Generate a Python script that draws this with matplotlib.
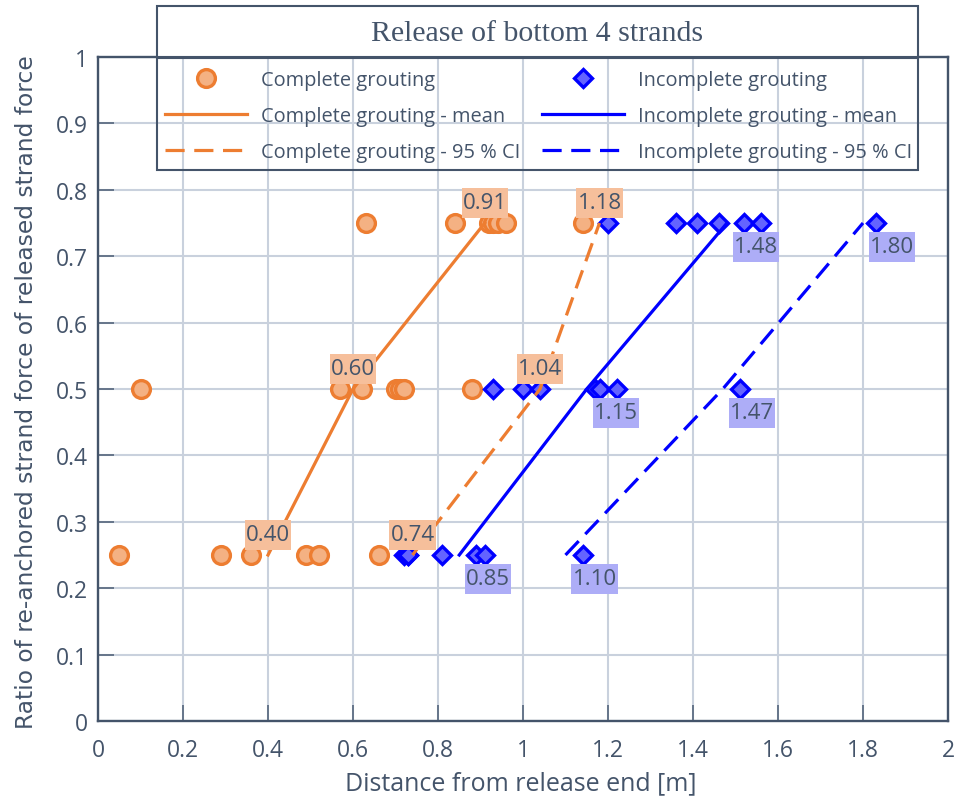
import matplotlib
matplotlib.use("Agg")
import matplotlib.pyplot as plt
from matplotlib.lines import Line2D
from matplotlib.patches import Rectangle
from matplotlib.path import Path

# ---- data -------------------------------------------------------------
levels = [0.25, 0.5, 0.75]

complete_x_025 = [0.05, 0.29, 0.36, 0.49, 0.52, 0.66]
complete_x_050 = [0.10, 0.57, 0.62, 0.70, 0.71, 0.72, 0.88]
complete_x_075 = [0.63, 0.84, 0.92, 0.93, 0.94, 0.96, 1.14]

incomplete_x_025 = [0.72, 0.73, 0.73, 0.81, 0.89, 0.91, 1.14]
incomplete_x_050 = [0.93, 1.00, 1.04, 1.17, 1.18, 1.22, 1.51]
incomplete_x_075 = [1.20, 1.36, 1.41, 1.46, 1.52, 1.56, 1.83]

complete_mean = [0.40, 0.60, 0.91]
complete_ci = [0.74, 1.04, 1.18]
incomplete_mean = [0.85, 1.15, 1.48]
incomplete_ci = [1.10, 1.47, 1.80]

x_ticks = [0, 0.2, 0.4, 0.6, 0.8, 1.0, 1.2, 1.4, 1.6, 1.8, 2.0]
x_tick_labels = ["0", "0.2", "0.4", "0.6", "0.8", "1", "1.2", "1.4", "1.6", "1.8", "2"]
y_ticks = [0, 0.1, 0.2, 0.3, 0.4, 0.5, 0.6, 0.7, 0.8, 0.9, 1.0]
y_tick_labels = ["0", "0.1", "0.2", "0.3", "0.4", "0.5", "0.6", "0.7", "0.8", "0.9", "1"]

title_text = "Release of bottom 4 strands"
x_label = "Distance from release end [m]"
y_label = "Ratio of re-anchored strand force of released strand force"

# ---- style ------------------------------------------------------------
SLATE = "#44546A"
GRID = "#C9D1DD"
ORANGE = "#ED7D31"
ORANGE_FACE = "#F4B183"
BLUE = "#0000FF"
BLUE_FACE = "#6464FF"
ORANGE_LABEL_BG = "#F6BF9B"
BLUE_LABEL_BG = "#ADADF7"

SANS = ["Open Sans", "DejaVu Sans"]
SERIF = ["Liberation Serif", "DejaVu Serif"]

W, H = 965, 804
fig = plt.figure(figsize=(W / 100, H / 100), dpi=100)
fig.patch.set_facecolor("white")


def fx(px):
    return px / W


def fy(py):
    return 1 - py / H


def label_box(x0, y0, width, height, mutation_size):
    """Flat rectangle: tight on the sides, roomier above and below."""
    px = 0.05 * mutation_size
    py = 0.2 * mutation_size
    x0, y0 = x0 - px, y0 - py
    x1, y1 = x0 + width + 2 * px, y0 + height + 2 * py
    return Path([(x0, y0), (x1, y0), (x1, y1), (x0, y1), (x0, y0)],
                closed=True)


ax = fig.add_axes([fx(98), fy(722), fx(948 - 98), (722 - 58) / H])
ax.set_xlim(0, 2)
ax.set_ylim(0, 1)

ax.grid(True, color=GRID, linewidth=1.5, zorder=0)
ax.set_axisbelow(True)
for side in ["left", "right", "top", "bottom"]:
    ax.spines[side].set_color(SLATE)
    ax.spines[side].set_linewidth(1.7)

ax.set_xticks(x_ticks)
ax.set_xticklabels(x_tick_labels, family=SANS, fontsize=16.5, color=SLATE)
ax.set_yticks(y_ticks)
ax.set_yticklabels(y_tick_labels, family=SANS, fontsize=16.5, color=SLATE)
ax.tick_params(axis="x", direction="in", length=11.5, width=1.3,
               color="#5E6E84", pad=12)
ax.tick_params(axis="y", direction="in", length=11.5, width=1.3,
               color="#5E6E84", pad=7)

# ---- scatter points ---------------------------------------------------
circle_kw = dict(linestyle="none", marker="o", markersize=12.8,
                 markerfacecolor=ORANGE_FACE, markeredgecolor=ORANGE,
                 markeredgewidth=2.4)
diamond_kw = dict(linestyle="none", marker="D", markersize=9.4,
                  markerfacecolor=BLUE_FACE, markeredgecolor=BLUE,
                  markeredgewidth=2.4)

for xs, lvl in zip([complete_x_025, complete_x_050, complete_x_075], levels):
    ax.plot(xs, [lvl] * len(xs), zorder=3, **circle_kw)
for xs, lvl in zip([incomplete_x_025, incomplete_x_050, incomplete_x_075], levels):
    ax.plot(xs, [lvl] * len(xs), zorder=3, **diamond_kw)

# ---- mean and confidence lines ---------------------------------------
dash = (0, (6, 3))
ax.plot(complete_mean, levels, color=ORANGE, lw=2.3, zorder=4)
ax.plot(complete_ci, levels, color=ORANGE, lw=2.3, ls=dash, zorder=4)
ax.plot(incomplete_mean, levels, color=BLUE, lw=2.3, zorder=4)
ax.plot(incomplete_ci, levels, color=BLUE, lw=2.3, ls=dash, zorder=4)

# ---- value labels -----------------------------------------------------
label_kw = dict(textcoords="offset points", family=SANS, fontsize=16,
                color=SLATE, zorder=6, va="center")
for series in [complete_mean, complete_ci]:
    for xv, lvl in zip(series, levels):
        ax.annotate(f"{xv:.2f}", (xv, lvl), xytext=(0, 14.5), ha="center",
                    bbox=dict(boxstyle=label_box, fc=ORANGE_LABEL_BG,
                              ec="none"),
                    **label_kw)
for series in [incomplete_mean, incomplete_ci]:
    for xv, lvl in zip(series, levels):
        ax.annotate(f"{xv:.2f}", (xv, lvl), xytext=(5, -17), ha="left",
                    bbox=dict(boxstyle=label_box, fc=BLUE_LABEL_BG,
                              ec="none"),
                    **label_kw)

# ---- axis titles ------------------------------------------------------
fig.text(fx(521), fy(784), x_label, ha="center", va="center",
         family=SANS, fontsize=18, color=SLATE)
fig.text(fx(27), fy(392), y_label, ha="center", va="center", rotation=90,
         family=["DejaVu Sans"], fontsize=16.8, color=SLATE)

# ---- title box --------------------------------------------------------
fig.add_artist(Rectangle((fx(157), fy(58)), fx(918 - 157), (58 - 7) / H,
                         transform=fig.transFigure, facecolor="white",
                         edgecolor=SLATE, linewidth=1.5, zorder=5))
fig.text(fx(537.5), fy(34), title_text, ha="center", va="center",
         family=SERIF, fontsize=21.5, color=SLATE, zorder=6)

# ---- legend -----------------------------------------------------------
fig.add_artist(Rectangle((fx(157), fy(171)), fx(918 - 157), (171 - 59) / H,
                         transform=fig.transFigure, facecolor="none",
                         edgecolor=SLATE, linewidth=1.5, zorder=5))
handles = [
    Line2D([], [], **circle_kw),
    Line2D([], [], color=ORANGE, lw=2.3),
    Line2D([], [], color=ORANGE, lw=2.3, ls=dash),
    Line2D([], [], **diamond_kw),
    Line2D([], [], color=BLUE, lw=2.3),
    Line2D([], [], color=BLUE, lw=2.3, ls=dash),
]
names = [
    "Complete grouting",
    "Complete grouting - mean",
    "Complete grouting - 95 % CI",
    "Incomplete grouting",
    "Incomplete grouting - mean",
    "Incomplete grouting - 95 % CI",
]
leg = fig.legend(handles, names, ncol=2, mode="expand",
                 bbox_to_anchor=(fx(165), fy(174), fx(912 - 165), (174 - 60) / H),
                 loc="center", frameon=False, handlelength=4.1,
                 handletextpad=0.7, labelspacing=0.78, borderpad=0.0,
                 borderaxespad=0.0,
                 prop=dict(family=SANS, size=14.4))
for t in leg.get_texts():
    t.set_color(SLATE)

fig.savefig("out.png", dpi=100, facecolor="white")
